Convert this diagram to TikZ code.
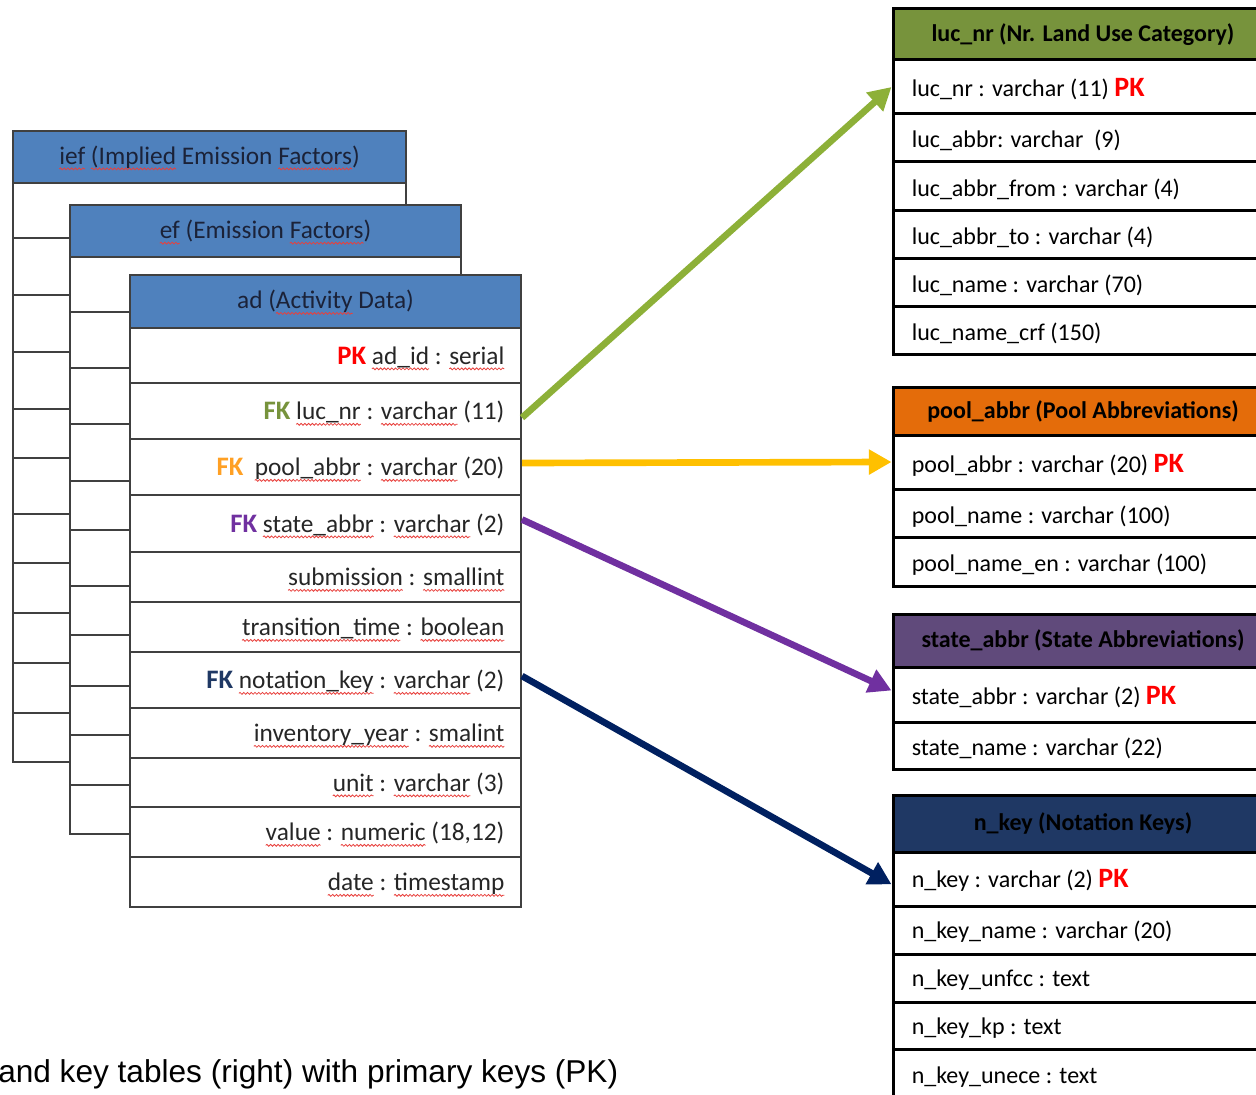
\documentclass[tikz,border=0pt]{standalone}
\usepackage{fontspec}
\setmainfont{Carlito}
\newfontfamily\arialfont{Liberation Sans}
\usetikzlibrary{arrows.meta, fit, decorations.pathmorphing}
\definecolor{hdrblue}{HTML}{4F81BD}
\definecolor{hdrtext}{HTML}{1B2238}
\definecolor{lucgreen}{HTML}{77933C}
\definecolor{lucarrow}{HTML}{8DB038}
\definecolor{poolorange}{HTML}{E46C0A}
\definecolor{poolarrow}{HTML}{FFC000}
\definecolor{poolfk}{HTML}{FFA024}
\definecolor{statepurple}{HTML}{604A7B}
\definecolor{statearrow}{HTML}{7030A0}
\definecolor{nkeynavy}{HTML}{1F3864}
\definecolor{nkeyarrow}{HTML}{002060}
\definecolor{pkred}{HTML}{FF0000}
\definecolor{spellred}{HTML}{E8403C}
\newsavebox\wvbox
\newlength\wvlen
\newcommand\wv[1]{\sbox\wvbox{#1}\setlength\wvlen{\wd\wvbox}\tikz[overlay, x=1pt, y=1pt, baseline=0pt]\draw[spellred, line width=0.6pt, decorate, decoration={snake, amplitude=0.7pt, segment length=2.8pt}] (0pt,-3.5pt) -- (\wvlen,-3.5pt);\usebox\wvbox}
\newcommand\lpk{\textcolor{pkred}{\fontsize{20}{22}\selectfont\textbf{PK}}}
\newcommand\rpk{\textcolor{pkred}{\fontsize{21}{22}\selectfont\textbf{PK}}}
\newcommand\fk[1]{\textcolor{#1}{\fontsize{20}{22}\selectfont\textbf{FK}}}

\begin{document}
\begin{tikzpicture}[x=0.75pt, y=-0.75pt,
        ltbl/.style={draw=black!75, line width=1.5pt, fill=white},
        lhead/.style={ltbl, fill=hdrblue, inner sep=0pt},
        ltitle/.style={inner sep=0pt, text=hdrtext, font=\fontsize{19}{21}\selectfont},
        lrow/.style={ltbl, inner sep=0pt},
        ltext/.style={anchor=east, inner sep=0pt, text=black!85, font=\fontsize{19}{21}\selectfont, text height=13pt, text depth=4pt},
        rrow/.style={draw=black, line width=2.25pt, fill=white, inner sep=0pt},
        rtitle/.style={inner sep=0pt, font=\fontsize{18}{20}\selectfont\bfseries},
        rtext/.style={anchor=west, inner sep=0pt, font=\fontsize{18}{20}\selectfont, text height=13pt, text depth=4pt},
        link/.style={line width=5pt, -{Triangle[length=17pt, width=18pt]}}]
            \useasboundingbox (0,0) rectangle (1256,1095);
            \clip (0,0) rectangle (1256,1095);

            \foreach \ya/\yb in {183/238, 238/295, 295/352, 352/409, 409/458, 458/514, 514/563, 563/613, 613/663, 663/713, 713/762}
                \draw[ltbl] (13,\ya) rectangle (406,\yb);
            \node[lhead, fit={(13,131) (406,183)}] (ief) {};
            \node[ltitle] (ieftitle) at (ief.center) {\wv{ief} \wv{(Implied}\ Emission\ \wv{Factors})};

            \foreach \ya/\yb in {257/312, 312/368, 368/424, 424/481, 481/530, 530/586, 586/635, 635/686, 686/735, 735/785, 785/834}
                \draw[ltbl] (70,\ya) rectangle (461,\yb);
            \node[lhead, fit={(70,205) (461,257)}] (ef) {};
            \node[ltitle] (eftitle) at (ef.center) {\wv{ef} (Emission \wv{Factors})};

            \node[lhead, fit={(130,275) (521,328)}] (ad) {};
            \node[ltitle] (adtitle) at (ad.center) {ad\ (\wv{Activity} Data)};
            \foreach \ya/\yb/\txt [count=\i] in {
                    328/383/{\lpk{} \wv{ad\_id} : \wv{serial}},
                    383/439/{\fk{lucgreen} \wv{luc\_nr} : \wv{varchar} (11)},
                    439/495/{\fk{poolfk}\ \ \wv{pool\_abbr} : \wv{varchar} (20)},
                    495/552/{\fk{statearrow} \wv{state\_abbr} : \wv{varchar} (2)},
                    552/602/{\wv{submission} : \wv{smallint}},
                    602/652/{\wv{transition\_time} : \wv{boolean}},
                    652/708/{\fk{nkeynavy} \wv{notation\_key} : \wv{varchar} (2)},
                    708/758/{\wv{inventory\_year} : \wv{smalint}},
                    758/807/{\wv{unit} : \wv{varchar} (3)},
                    807/857/{\wv{value} : \wv{numeric} (18,12)},
                    857/907/{\wv{date} : \wv{timestamp}}}{
                \node[lrow, fit={(130,\ya) (521,\yb)}] (ad-\i) {};
                \node[ltext] (adtxt-\i) at ([xshift=-13pt, yshift=-2pt]ad-\i.east) {\txt};
            }

            \node[rrow, fill=lucgreen, fit={(893,9) (1273,60)}] (luc) {};
            \node[rtitle] (luctitle) at (luc.center) {luc\_nr (Nr. Land Use Category)};
            \foreach \ya/\yb/\txt [count=\i] in {
                    60/114/{luc\_nr : varchar (11) \rpk},
                    114/162/{luc\_abbr: varchar\ \ (9)},
                    162/210/{luc\_abbr\_from : varchar (4)},
                    210/258/{luc\_abbr\_to : varchar (4)},
                    258/306/{luc\_name : varchar (70)},
                    306/354/{luc\_name\_crf (150)}}{
                \node[rrow, fit={(893,\ya) (1273,\yb)}] (luc-\i) {};
                \node[rtext] (luctxt-\i) at ([xshift=15pt, yshift=-3pt]luc-\i.west) {\txt};
            }

            \node[rrow, fill=poolorange, fit={(893,387) (1273,435)}] (pool) {};
            \node[rtitle] (pooltitle) at (pool.center) {pool\_abbr (Pool Abbreviations)};
            \foreach \ya/\yb/\txt [count=\i] in {
                    435/489/{pool\_abbr : varchar (20) \rpk},
                    489/537/{pool\_name : varchar (100)},
                    537/586/{pool\_name\_en : varchar (100)}}{
                \node[rrow, fit={(893,\ya) (1273,\yb)}] (pool-\i) {};
                \node[rtext] (pooltxt-\i) at ([xshift=15pt, yshift=-3pt]pool-\i.west) {\txt};
            }

            \node[rrow, fill=statepurple, fit={(893,614) (1273,667)}] (state) {};
            \node[rtitle] (statetitle) at (state.center) {state\_abbr (State Abbreviations)};
            \foreach \ya/\yb/\txt [count=\i] in {
                    667/722/{state\_abbr : varchar (2) \rpk},
                    722/769/{state\_name : varchar (22)}}{
                \node[rrow, fit={(893,\ya) (1273,\yb)}] (state-\i) {};
                \node[rtext] (statetxt-\i) at ([xshift=15pt, yshift=-3pt]state-\i.west) {\txt};
            }

            \node[rrow, fill=nkeynavy, fit={(893,795) (1273,852)}] (nkey) {};
            \node[rtitle] (nkeytitle) at (nkey.center) {n\_key (Notation Keys)};
            \foreach \ya/\yb/\txt [count=\i] in {
                    852/906/{n\_key : varchar (2) \rpk},
                    906/954/{n\_key\_name : varchar (20)},
                    954/1002/{n\_key\_unfcc : text},
                    1002/1049/{n\_key\_kp : text},
                    1049/1101/{n\_key\_unece : text}}{
                \node[rrow, fit={(893,\ya) (1273,\yb)}] (nkey-\i) {};
                \node[rtext] (nkeytxt-\i) at ([xshift=15pt, yshift=-2pt]nkey-\i.west) {\txt};
            }

            \draw[link, lucarrow] ([yshift=-5pt]ad-2.east) -- (luc-1.west);
            \draw[link, poolarrow] ([yshift=3pt]ad-3.east) -- (pool-1.west);
            \draw[link, statearrow] ([yshift=3pt]ad-4.east) -- ([yshift=3pt]state-1.west);
            \draw[link, nkeyarrow] ([yshift=3pt]ad-7.east) -- ([yshift=-4pt]nkey-1.west);

            \node[anchor=base west, inner sep=0pt, font=\arialfont\fontsize{23.7}{26}\selectfont] (caption) at (-2,1082) {and key tables (right) with primary keys (PK)};
        \end{tikzpicture}
\end{document}
